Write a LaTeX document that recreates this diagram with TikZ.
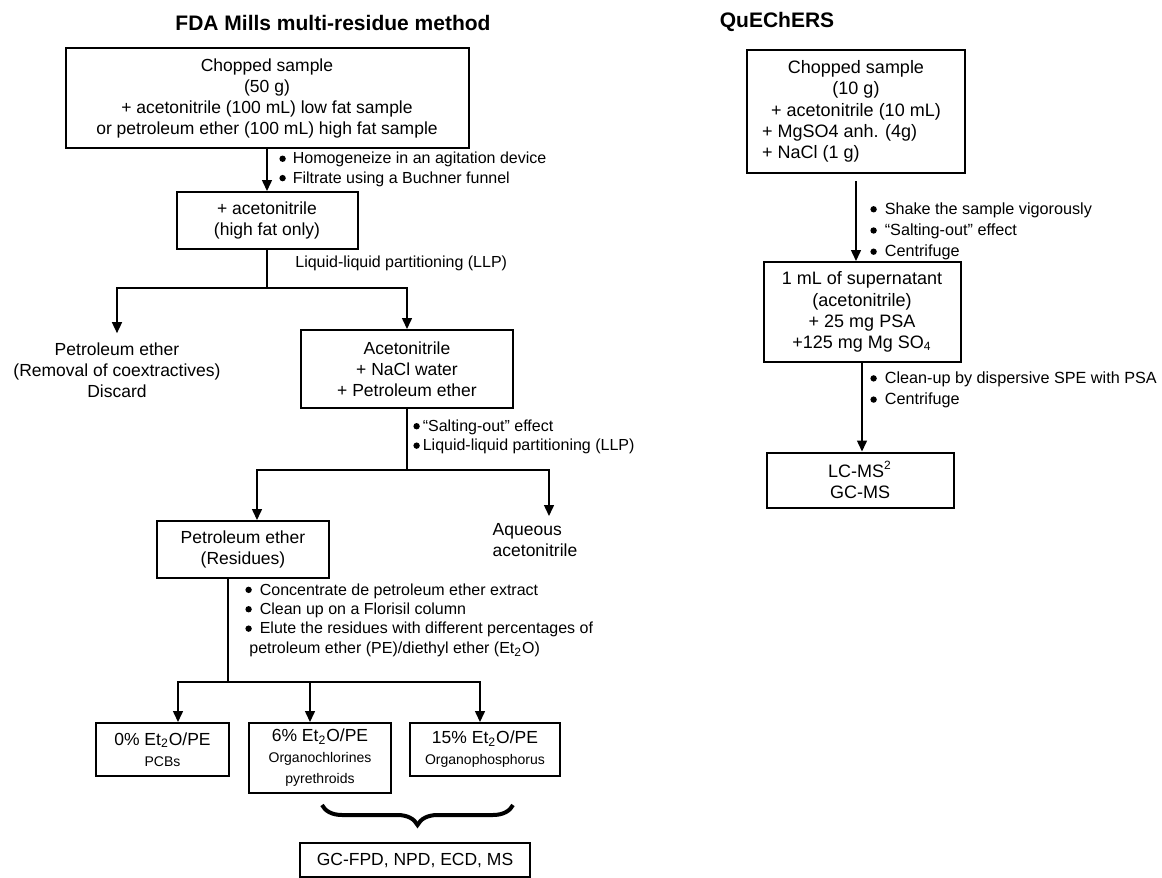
\documentclass[tikz,border=0pt]{standalone}
\usepackage{fontspec}
\setmainfont{Liberation Sans}
\usepackage{tikz}
\usetikzlibrary{arrows.meta,positioning,calc,decorations.pathreplacing}

\newcommand{\boxfont}{\fontsize{8.75}{10.5}\selectfont}
\newcommand{\qboxfont}{\fontsize{9}{10.6}\selectfont}
\newcommand{\notefont}{\fontsize{8}{9.7}\selectfont}
\newcommand{\qnotefont}{\fontsize{8.1}{10.6}\selectfont}
\newcommand{\smfont}{\fontsize{7}{9}\selectfont}
\newcommand{\blt}{\tikz[baseline=-2.6pt]\fill (0,0) circle (1.6pt);}

\begin{document}
\begin{tikzpicture}[x=0.5pt, y=-0.5pt,
        box/.style={draw, rectangle, line width=1pt, align=center, inner sep=0pt, font=\boxfont},
        qbox/.style={box, font=\qboxfont},
        note/.style={anchor=west, align=left, inner sep=0pt, font=\notefont},
        qnote/.style={note, font=\qnotefont},
        title/.style={font=\fontsize{10.5}{12}\selectfont\bfseries},
        arrow/.style={-{Triangle[width=5pt,length=5.5pt]}, line width=0.75pt},
        line/.style={line width=0.75pt}
    ]
        \useasboundingbox (0,0) rectangle (1162,878);

        % Titulos
        \node[title] (fdatitle) at (333,23) {FDA Mills multi-residue method};
        \node[title] (qtitle) at (777,22) {QuEChERS};

        % FDA Mills
        \node[box, minimum width=201.5pt, minimum height=50pt] (sample) at (267,98)
            {Chopped sample\\(50 g)\\+ acetonitrile (100 mL) low fat sample\\or petroleum ether (100 mL) high fat sample};
        \node[box, minimum width=90.5pt, minimum height=28.5pt] (highfat) at (267,220.5)
            {+ acetonitrile\\(high fat only)};
        \node[note] (homog) at (279,169.5)
            {\blt\hspace{3.5pt}Homogeneize in an agitation device\\\blt\hspace{3.5pt}Filtrate using a Buchner funnel};
        \draw[arrow] (sample) -- (highfat);

        \coordinate (split1) at (267,288);
        \node[note] (llp) at (295,263) {Liquid-liquid partitioning (LLP)};
        \node[align=center, inner xsep=0pt, inner ysep=4.5pt, font=\boxfont] (discard) at (117,370)
            {Petroleum ether\\(Removal of coextractives)\\Discard};
        \node[box, minimum width=106pt, minimum height=39pt] (acn) at (407,369)
            {Acetonitrile\\+ NaCl water\\+ Petroleum ether};
        \draw[line] (highfat) -- (split1);
        \draw[arrow] (split1) -| (discard.north);
        \draw[arrow] (split1) -| (acn.north);

        \coordinate (split2) at (407,470);
        \node[note] (salting) at (413,437)
            {\blt\hspace{1.5pt}``Salting-out'' effect\\\blt\hspace{1.5pt}Liquid-liquid partitioning (LLP)};
        \node[box, minimum width=86pt, minimum height=28.5pt] (residues) at (243,549.5)
            {Petroleum ether\\(Residues)};
        \node[align=left, inner xsep=0pt, inner ysep=3.5pt, font=\boxfont] (aqueous) at (535,540)
            {Aqueous\\acetonitrile};
        \draw[line] (acn) -- (split2);
        \draw[arrow] (split2) -| ([xshift=7pt]residues.north);
        \draw[arrow] (split2) -| ([xshift=7pt]aqueous.north);

        % Florisil
        \coordinate (split3) at (228,682);
        \node[note] (florisil) at (245,620)
            {\blt\hspace{4pt}Concentrate de petroleum ether extract\\
             \blt\hspace{4pt}Clean up on a Florisil column\\
             \blt\hspace{4pt}Elute the residues with different percentages of\\
             \hspace{2pt}petroleum ether (PE)/diethyl ether (Et\textsubscript{2}O)};
        \node[box, minimum width=66.5pt, minimum height=26.5pt] (pcb) at (162.5,749.5)
            {0\% Et\textsubscript{2}O/PE\\\smfont PCBs};
        \node[box, minimum width=71pt, minimum height=35pt] (orgcl) at (320,758)
            {6\% Et\textsubscript{2}O/PE\\\smfont Organochlorines\\\smfont pyrethroids};
        \node[box, minimum width=75pt, minimum height=26.5pt] (orgp) at (485,749.5)
            {15\% Et\textsubscript{2}O/PE\\\smfont Organophosphorus};
        \draw[line] ([xshift=-7.5pt]residues.south) -- (split3);
        \draw[arrow] (split3) -| ([xshift=7.75pt]pcb.north);
        \draw[arrow] (split3) -| ([xshift=-5pt]orgcl.north);
        \draw[arrow] (split3) -| ([xshift=-2.5pt]orgp.north);

        % Chave e deteccao
        \coordinate (braceR) at (513,805);
        \coordinate (braceL) at (322,805);
        \draw[line width=2pt, decorate, decoration={brace, amplitude=10pt}] (braceR) -- (braceL);
        \node[box, minimum width=115pt, minimum height=17pt] (gc) at (415,860) {GC-FPD, NPD, ECD, MS};

        % QuEChERS
        \node[qbox, minimum width=109pt, minimum height=61.5pt] (qsample) at (856,111.5)
            {Chopped sample\\(10 g)\\+ acetonitrile (10 mL)\\\makebox[94pt][l]{+ MgSO4 anh. (4g)}\\\makebox[94pt][l]{+ NaCl (1 g)}};
        \node[qbox, minimum width=98.5pt, minimum height=50pt] (super) at (862,312)
            {1 mL of supernatant\\(acetonitrile)\\+ 25 mg PSA\\+125 mg Mg SO\textsubscript{4}};
        \node[qbox, minimum width=93.5pt, minimum height=27.5pt] (lcms) at (860,480)
            {LC-MS\textsuperscript{2}\\GC-MS};
        \node[qnote] (shake) at (870,231.5)
            {\blt\hspace{4pt}Shake the sample vigorously\\\blt\hspace{4pt}``Salting-out'' effect\\\blt\hspace{4pt}Centrifuge};
        \node[qnote] (cleanup) at (870,390)
            {\blt\hspace{4pt}Clean-up by dispersive SPE with PSA\\\blt\hspace{4pt}Centrifuge};
        \draw[arrow] ([yshift=-3.5pt]qsample.south) -- (qsample.south |- super.north);
        \draw[arrow] (super.south) -- (super.south |- lcms.north);
    \end{tikzpicture}
\end{document}
